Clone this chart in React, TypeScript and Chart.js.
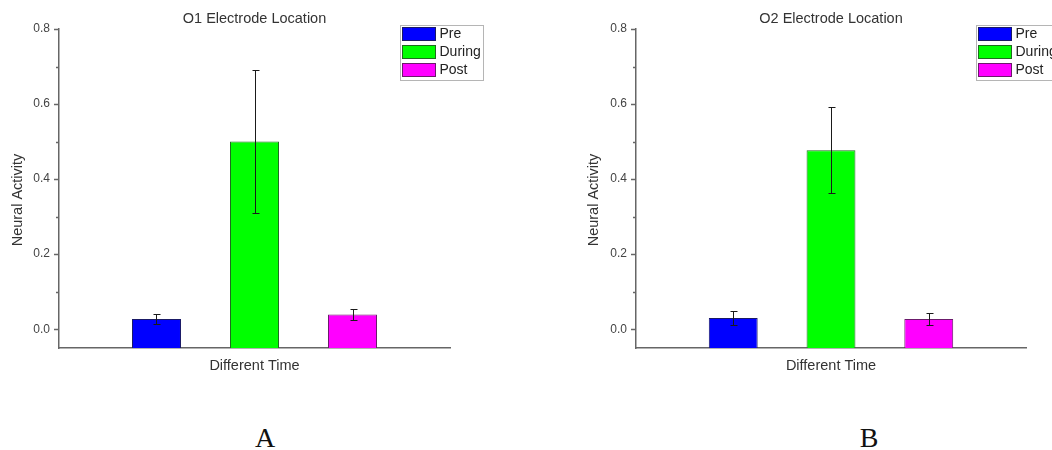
import React, { useEffect, useRef } from 'react';
import { Chart, registerables } from 'chart.js';

Chart.register(...registerables);

// ---- data ----
const categories = ['Different Time'];
const seriesLabels = ['Pre', 'During', 'Post'];
const seriesColors = ['#0000ff', '#00ff00', '#ff00ff'];
const seriesBorders = ['#1a1a66', '#1f6b1f', '#6b1a6b'];
const o1Values = [0.027, 0.5, 0.039];
const o1Errors = [0.014, 0.19, 0.014];
const o2Values = [0.03, 0.477, 0.027];
const o2Errors = [0.018, 0.115, 0.015];
const yMin = -0.05;
const yMax = 0.8;
const yStep = 0.2;
const minorTicks = [0.1, 0.3, 0.5, 0.7];
const xTitle = 'Different Time';
const yTitle = 'Neural Activity';
const panelTitles = ['O1 Electrode Location', 'O2 Electrode Location'];
const panelLetters = ['A', 'B'];

const SANS = "'Liberation Sans', Arial, sans-serif";
const CANVAS_H = 400;
const PLOT_TOP = 29;
const PLOT_BOTTOM = 348;

type PanelProps = {
  title: string;
  values: number[];
  errors: number[];
  left: number;
  width: number;
  axisWidth: number;
  rightPad: number;
};

function Panel({ title, values, errors, left, width, axisWidth, rightPad }: PanelProps) {
  const ref = useRef<HTMLCanvasElement | null>(null);

  useEffect(() => {
    if (!ref.current) return;
    const plugin = {
      id: 'panelDecor',
      afterDatasetsDraw(chart: any) {
        const ctx = chart.ctx;
        const ys = chart.scales.y;
        ctx.save();
        ctx.strokeStyle = '#1a1a1a';
        ctx.lineWidth = 1;
        chart.data.datasets.forEach((ds: any, i: number) => {
          const meta = chart.getDatasetMeta(i);
          const bar = meta.data[0];
          const v = ds.data[0];
          const e = errors[i];
          const x = Math.round(bar.x) + 0.5;
          const top = Math.round(ys.getPixelForValue(v + e)) + 0.5;
          const bot = Math.round(ys.getPixelForValue(v - e)) + 0.5;
          ctx.beginPath();
          ctx.moveTo(x, top);
          ctx.lineTo(x, bot);
          ctx.moveTo(x - 3, top);
          ctx.lineTo(x + 4, top);
          ctx.moveTo(x - 3, bot);
          ctx.lineTo(x + 4, bot);
          ctx.stroke();
        });
        ctx.restore();
      },
      afterDraw(chart: any) {
        const ctx = chart.ctx;
        const area = chart.chartArea;
        const ys = chart.scales.y;
        ctx.save();
        // minor ticks
        ctx.strokeStyle = '#666';
        ctx.lineWidth = 1.5;
        minorTicks.forEach((t) => {
          const py = Math.round(ys.getPixelForValue(t)) + 0.5;
          ctx.beginPath();
          ctx.moveTo(area.left - 3, py);
          ctx.lineTo(area.left, py);
          ctx.stroke();
        });
        // title
        const cx = (area.left + area.right) / 2;
        ctx.fillStyle = '#333';
        ctx.font = `14.5px ${SANS}`;
        ctx.textAlign = 'center';
        ctx.textBaseline = 'middle';
        ctx.fillText(title, cx, 18.5);
        // x title
        ctx.fillText(xTitle, cx, 366);
        // y title
        ctx.save();
        ctx.translate(18, 200);
        ctx.rotate(-Math.PI / 2);
        ctx.fillText(yTitle, 0, 0);
        ctx.restore();
        // legend
        const bx = Math.round(area.right) - 50 + 0.5;
        const by = area.top - 4 + 0.5;
        ctx.fillStyle = '#ffffff';
        ctx.fillRect(bx, by, 83, 55);
        ctx.strokeStyle = '#b5b5b5';
        ctx.lineWidth = 1;
        ctx.strokeRect(bx, by, 83, 55);
        ctx.font = `14px ${SANS}`;
        ctx.textAlign = 'left';
        chart.data.datasets.forEach((ds: any, i: number) => {
          const sy = by + 2 + i * 18;
          ctx.fillStyle = ds.backgroundColor;
          ctx.fillRect(bx + 2, sy, 33, 13);
          ctx.strokeStyle = ds.borderColor;
          ctx.strokeRect(bx + 2, sy, 33, 13);
          ctx.fillStyle = '#222';
          ctx.fillText(ds.label, bx + 39, sy + 7);
        });
        ctx.restore();
      },
    };

    const chart = new Chart(ref.current, {
      type: 'bar',
      data: {
        labels: categories,
        datasets: seriesLabels.map((lab, i) => ({
          label: lab,
          data: [values[i]],
          backgroundColor: seriesColors[i],
          borderColor: seriesBorders[i],
          borderWidth: 1,
          base: yMin,
          categoryPercentage: 0.752,
          barPercentage: 0.5,
        })),
      },
      options: {
        responsive: false,
        animation: false,
        devicePixelRatio: 1,
        layout: { padding: { top: PLOT_TOP, left: 0, right: rightPad, bottom: 0 } },
        plugins: {
          legend: { display: false },
          title: { display: false },
          tooltip: { enabled: false },
        },
        scales: {
          x: {
            type: 'category',
            grid: { display: false },
            border: { display: true, color: '#666', width: 1.5 },
            ticks: { display: false },
            afterFit: (s: any) => {
              s.height = CANVAS_H - PLOT_BOTTOM;
            },
          },
          y: {
            min: yMin,
            max: yMax,
            grid: {
              display: true,
              drawOnChartArea: false,
              drawTicks: true,
              tickLength: 5,
              tickColor: '#666',
              tickWidth: 1.5,
            },
            border: { display: true, color: '#666', width: 1.5 },
            ticks: {
              stepSize: yStep,
              includeBounds: false,
              padding: 4,
              color: '#444',
              font: { family: SANS, size: 12 },
              callback: (v: any) => Number(v).toFixed(1),
            },
            afterFit: (s: any) => {
              s.width = axisWidth;
            },
          },
        },
      } as any,
      plugins: [plugin],
    });
    return () => chart.destroy();
  }, [title, values, errors, axisWidth, rightPad]);

  return (
    <canvas
      ref={ref}
      width={width}
      height={CANVAS_H}
      style={{ position: 'absolute', left, top: 0, width, height: CANVAS_H, display: 'block' }}
    />
  );
}

export default function App() {
  return (
    <div
      style={{
        position: 'absolute',
        left: 0,
        top: 0,
        width: 1052,
        height: 450,
        overflow: 'hidden',
        background: '#ffffff',
      }}
    >
      <Panel title={panelTitles[0]} values={o1Values} errors={o1Errors} left={0} width={500} axisWidth={59} rightPad={50} />
      <Panel title={panelTitles[1]} values={o2Values} errors={o2Errors} left={576} width={476} axisWidth={60} rightPad={26} />
      {panelLetters.map((l, i) => (
        <div
          key={l}
          style={{
            position: 'absolute',
            left: i === 0 ? 245 : 849,
            top: 424,
            width: 40,
            textAlign: 'center',
            fontFamily: "'Liberation Serif', 'Times New Roman', serif",
            fontSize: 28,
            lineHeight: '28px',
            color: '#111',
          }}
        >
          {l}
        </div>
      ))}
    </div>
  );
}
